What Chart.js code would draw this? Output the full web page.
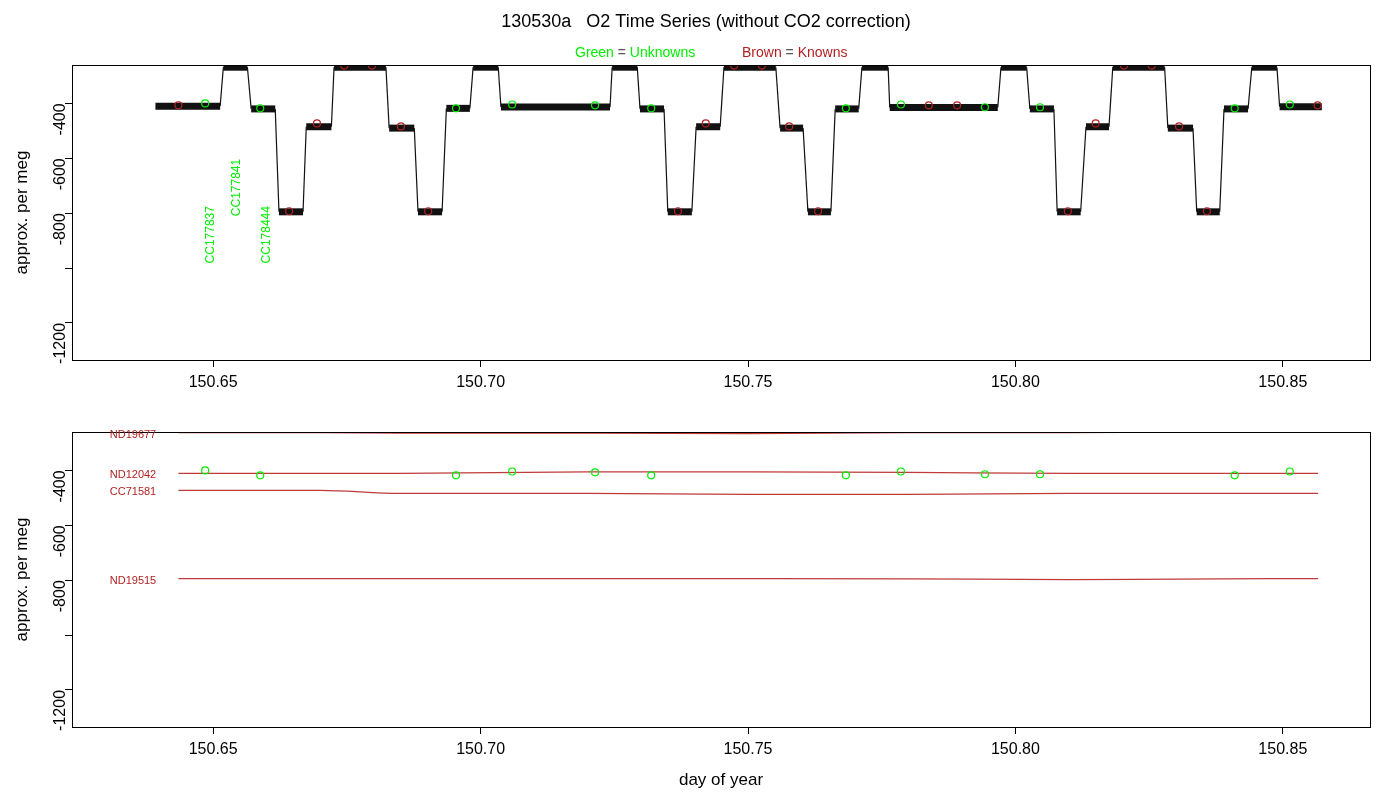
<!DOCTYPE html>
<html><head><meta charset="utf-8">
<script src="https://cdn.jsdelivr.net/npm/chart.js@4/dist/chart.umd.min.js"></script>
<style>body{margin:0;background:#fff;width:1400px;height:800px;position:relative;overflow:hidden}
.c{position:absolute;left:0;width:1400px;height:400px}</style></head><body>
<div class="c" style="top:0"><canvas id="top" width="1400" height="400"></canvas></div>
<div class="c" style="top:400px"><canvas id="bot" width="1400" height="400"></canvas></div>
<script>
// ---- data ----
const xTicks=[150.65,150.70,150.75,150.80,150.85];
const yTicks=[-1200,-1000,-800,-600,-400];
// trace plateaus: start day, end day, level per meg
const traceStart=[150.6392,150.6519,150.6571,150.6623,150.6674,150.6726,150.6829,150.6883,150.6936,150.6986,150.7038,150.7246,150.7298,150.7350,150.7403,150.7455,150.7560,150.7612,150.7663,150.7713,150.7765,150.7973,150.8027,150.8078,150.8132,150.8182,150.8285,150.8339,150.8390,150.8442,150.8494];
const traceEnd  =[150.6513,150.6564,150.6616,150.6668,150.6721,150.6823,150.6876,150.6928,150.6980,150.7033,150.7242,150.7293,150.7343,150.7395,150.7448,150.7552,150.7603,150.7655,150.7707,150.7762,150.7967,150.8021,150.8072,150.8122,150.8175,150.8279,150.8332,150.8382,150.8435,150.8489,150.8573];
const traceLevel=[-410,-268,-420,-795,-485,-268,-490,-795,-418,-268,-413,-268,-420,-795,-485,-268,-490,-795,-420,-268,-415,-268,-420,-795,-485,-268,-490,-795,-420,-268,-412];
const unkX=[150.6485,150.6588,150.6954,150.7059,150.7214,150.7319,150.7683,150.7786,150.7943,150.8046,150.8410,150.8513];
const unkY=[-400,-418,-418,-404,-407,-418,-418,-404,-414,-414,-418,-404];
const knX=[150.6435,150.6642,150.6694,150.6745,150.6797,150.6851,150.6902,150.7369,150.7421,150.7474,150.7526,150.7577,150.7631,150.7838,150.7891,150.8098,150.8150,150.8203,150.8255,150.8306,150.8358,150.8565];
const knY=[-407,-793,-473,-262,-262,-484,-793,-793,-473,-262,-262,-484,-793,-407,-407,-793,-473,-262,-262,-484,-793,-407];
const unkNames=['CC177837','CC177841','CC178444'];
const unkNameX=[150.6487,150.6537,150.6592];
const unkNameY=[-983,-811,-983];
// reference-gas smoothed lines
const refNames=['ND19677','ND12042','CC71581','ND19515'];
const refX=[150.6435,150.6700,150.6850,150.7200,150.7500,150.7800,150.8100,150.8300,150.8566];
const refY=[
 [-262,-262,-264,-264,-266,-262,-262,-260,-260],
 [-411,-411,-411,-405,-405,-407,-411,-411,-411],
 [-473,-473,-484,-484,-487,-487,-484,-484,-484],
 [-794,-794,-794,-794,-794,-795,-798,-796,-794]
];
// ---- build ----
const tracePts=[];
traceStart.forEach((s,i)=>{tracePts.push({x:s,y:traceLevel[i]});tracePts.push({x:traceEnd[i],y:traceLevel[i]});});
const BROWN='#b22222', LINE='#c03a3a', GREEN='#00ee00', FONT='"Liberation Sans", Arial, sans-serif';
Chart.defaults.font.family=FONT; Chart.defaults.color='#000';
const boxPlugin={id:'box',afterDraw(c){const a=c.chartArea,g=c.ctx;g.save();g.strokeStyle='#000';g.lineWidth=1;g.strokeRect(a.left+.5,a.top+.5,a.width,a.height);g.restore();}};
function scales(showTitle){return{
 x:{type:'linear',min:150.6236,max:150.8663,
   afterBuildTicks(s){s.ticks=xTicks.map(v=>({value:v}));},
   afterFit(s){s.height=showTitle?73:40;},
   ticks:{callback:v=>v.toFixed(2),font:{size:16},padding:6,maxRotation:0,autoSkip:false},
   grid:{drawOnChartArea:false,drawTicks:true,tickLength:7,color:'#000'},border:{color:'#000'},
   title:{display:showTitle,text:'day of year',font:{size:17},padding:{top:0,bottom:9}}},
 y:{type:'linear',min:-1335,max:-260,
   afterBuildTicks(s){s.ticks=yTicks.map(v=>({value:v}));},
   afterFit(s){s.width=72;},
   ticks:{callback:v=>v===-1000?'':String(v),font:{size:16},minRotation:90,maxRotation:90,padding:4,autoSkip:false},
   grid:{drawOnChartArea:false,drawTicks:true,tickLength:7,color:'#000'},border:{color:'#000'},
   title:{display:true,text:'approx. per meg',font:{size:17},padding:{top:12,bottom:0}}}
};}
const circ=(xs,ys,col)=>({type:'scatter',data:xs.map((x,i)=>({x,y:ys[i]})),pointStyle:'circle',pointRadius:3.5,pointBorderColor:col,pointBackgroundColor:'rgba(0,0,0,0)',pointBorderWidth:1.2,showLine:false,order:0});
const titlePlugin={id:'ttl',afterDraw(c){const g=c.ctx;g.save();g.textBaseline='middle';g.textAlign='center';g.fillStyle='#000';g.font='18px '+FONT;
 g.fillText('130530a   O2 Time Series (without CO2 correction)',706,22);
 g.font='14px '+FONT;g.textAlign='left';
 const parts=[['Green ',GREEN],['= ','#555'],['Unknowns',GREEN]];let x=575;
 parts.forEach(p=>{g.fillStyle=p[1];g.fillText(p[0],x,53);x+=g.measureText(p[0]).width;});
 const parts2=[['Brown ',BROWN],['= ','#555'],['Knowns',BROWN]];x=742;
 parts2.forEach(p=>{g.fillStyle=p[1];g.fillText(p[0],x,53);x+=g.measureText(p[0]).width;});
 const xs=c.scales.x,ys=c.scales.y;g.fillStyle=GREEN;g.font='12px '+FONT;g.textAlign='left';
 unkNames.forEach((n,i)=>{g.save();g.translate(xs.getPixelForValue(unkNameX[i])+4,ys.getPixelForValue(unkNameY[i]));g.rotate(-Math.PI/2);g.fillText(n,0,0);g.restore();});
 g.restore();}};
new Chart(document.getElementById('top'),{type:'line',
 data:{datasets:[
  circ(unkX,unkY,GREEN),circ(knX,knY,BROWN),
  {data:tracePts,borderColor:'#111',pointRadius:0,tension:0,order:5,
   segment:{borderWidth:ctx=>ctx.p0.parsed.y===ctx.p1.parsed.y?7:1.2}}]},
 options:{responsive:false,animation:false,devicePixelRatio:1,layout:{padding:{top:65,right:30,left:0,bottom:0}},
  plugins:{legend:{display:false},tooltip:{enabled:false}},scales:scales(false)},
 plugins:[boxPlugin,titlePlugin]});
const labPlugin={id:'lab',afterDraw(c){const g=c.ctx,ys=c.scales.y;g.save();g.fillStyle=BROWN;g.font='11px '+FONT;g.textAlign='center';g.textBaseline='middle';
 refNames.forEach((n,i)=>g.fillText(n,133,ys.getPixelForValue(refY[i][0])+2));g.restore();}};
new Chart(document.getElementById('bot'),{type:'line',
 data:{datasets:[
  circ(unkX,unkY,GREEN),
  ...refY.map(r=>({data:refX.map((x,i)=>({x,y:r[i]})),borderColor:LINE,borderWidth:1.3,pointRadius:0,order:5,cubicInterpolationMode:'monotone'}))]},
 options:{responsive:false,animation:false,devicePixelRatio:1,layout:{padding:{top:32,right:30,left:0,bottom:0}},
  plugins:{legend:{display:false},tooltip:{enabled:false}},scales:scales(true)},
 plugins:[boxPlugin,labPlugin]});
</script></body></html>
